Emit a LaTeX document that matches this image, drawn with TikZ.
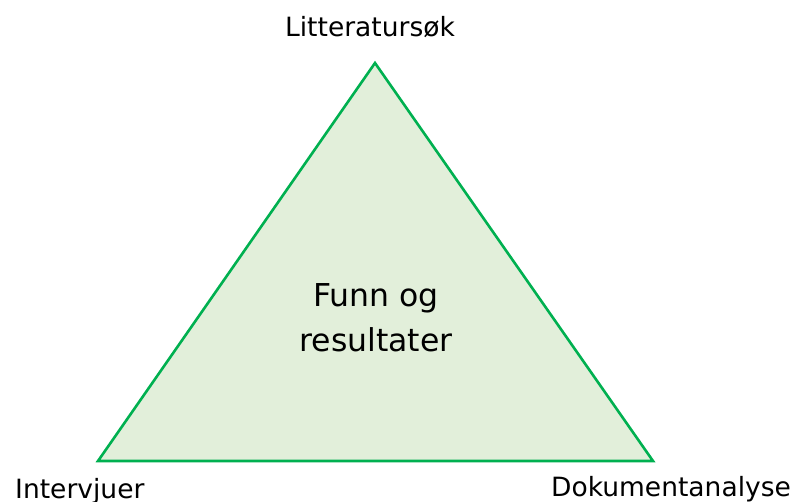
\documentclass[tikz,border=0pt]{standalone}
\usepackage{fontspec}
\setmainfont{DejaVu Sans}
\newfontfamily\labelfont{DejaVu Sans}
\definecolor{edgegreen}{HTML}{00B050}
\definecolor{fillgreen}{HTML}{E2EFDA}
\tikzset{
  corner/.style={inner sep=0pt, anchor=base west, font=\labelfont\fontsize{26.5}{31}\selectfont},
  centretext/.style={inner sep=0pt, align=center, font=\fontsize{31.5}{45}\selectfont}
}
\begin{document}
\begin{tikzpicture}[x=1pt, y=-1pt]
  \useasboundingbox (0,0) rectangle (797,502);
  % triangle corners
  \coordinate (top) at (375,63);
  \coordinate (bl) at (98,461);
  \coordinate (br) at (653,461);
  \filldraw[draw=edgegreen, fill=fillgreen, line width=2.6pt, line join=miter]
    (top) -- (bl) -- (br) -- cycle;
  % corner labels
  \node[corner, anchor=base] (lit) at (370,37) {Litteratursøk};
  \node[corner] (int) at (15,498) {Intervjuer};
  \node[corner] (dok) at (551,496) {Dokumentanalyse};
  % centre text
  \node[centretext] (funn) at (376,318) {Funn og\\resultater};
\end{tikzpicture}
\end{document}
